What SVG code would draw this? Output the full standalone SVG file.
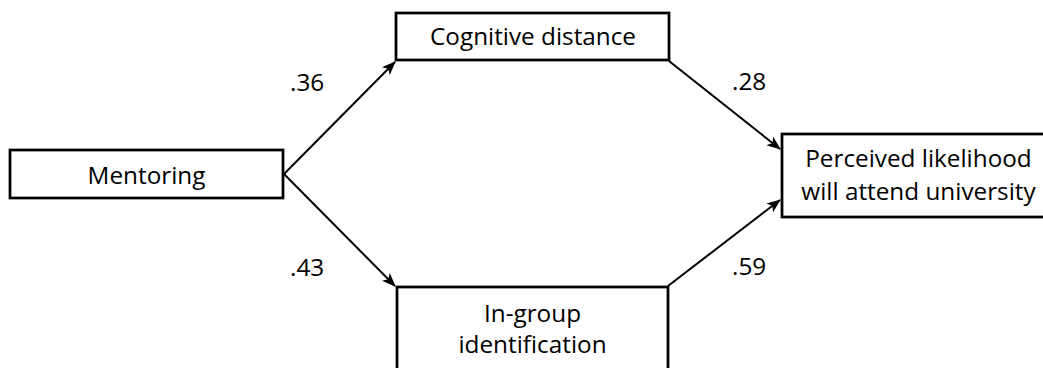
<svg xmlns="http://www.w3.org/2000/svg" width="1043" height="368" viewBox="0 0 1043 368">
  <style>
    .box { fill: #ffffff; stroke: #000000; stroke-width: 2.75; }
    .lbl { font-family: "Open Sans", "Liberation Sans", sans-serif; font-size: 24.3px; fill: #000000; }
    .mid { text-anchor: middle; }
    .conn { stroke: #000000; stroke-width: 2; fill: none; marker-end: url(#arrow); }
  </style>
  <defs>
    <marker id="arrow" viewBox="0 0 14 11" refX="13" refY="5.5" markerWidth="14" markerHeight="11" markerUnits="userSpaceOnUse" orient="auto">
      <path d="M0,0 L14,5.5 L0,11 L3.5,5.5 z" fill="#000000"/>
    </marker>
  </defs>
  <rect x="0" y="0" width="1043" height="368" fill="#ffffff"/>

  <g id="connectors">
    <line class="conn" x1="284" y1="174" x2="395" y2="62"/>
    <line class="conn" x1="284" y1="174" x2="395" y2="286"/>
    <line class="conn" x1="669" y1="61" x2="780" y2="149"/>
    <line class="conn" x1="668" y1="286" x2="780" y2="200"/>
  </g>

  <g id="labels">
    <text class="lbl" x="290" y="91">.36</text>
    <text class="lbl" x="290" y="276">.43</text>
    <text class="lbl" x="732" y="90">.28</text>
    <text class="lbl" x="732" y="275">.59</text>
  </g>

  <g id="mentoring">
    <rect class="box" x="10" y="150" width="273" height="48"/>
    <text class="lbl mid" x="146.5" y="184">Mentoring</text>
  </g>

  <g id="cognitive-distance">
    <rect class="box" x="396" y="13" width="273" height="47"/>
    <text class="lbl mid" x="533" y="45">Cognitive distance</text>
  </g>

  <g id="in-group-identification">
    <rect class="box" x="397" y="287" width="271" height="100"/>
    <text class="lbl mid" x="532.5" y="322">In-group</text>
    <text class="lbl mid" x="532.5" y="353">identification</text>
  </g>

  <g id="perceived-likelihood">
    <rect class="box" x="782" y="134" width="280" height="83"/>
    <text class="lbl mid" x="918.5" y="167">Perceived likelihood</text>
    <text class="lbl mid" x="918.5" y="200">will attend university</text>
  </g>
</svg>
